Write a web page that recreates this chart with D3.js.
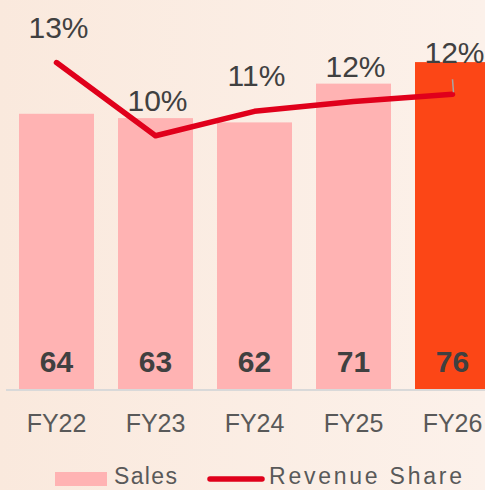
<!DOCTYPE html>
<html>
<head>
<meta charset="utf-8">
<script src="https://cdn.jsdelivr.net/npm/d3@7"></script>
<style>
html,body{margin:0;padding:0;overflow:hidden;}
svg{display:block;}
text{font-family:"Liberation Sans",Arial,sans-serif;}
</style>
</head>
<body>
<script>
const categories = ["FY22","FY23","FY24","FY25","FY26"];
const sales = [64, 63, 62, 71, 76];
const revenueShare = [13.4, 10.4, 11.4, 11.8, 12.1];
const shareLabels = ["13%","10%","11%","12%","12%"];
const highlight = "FY26";

const W = 485, H = 490;
const svg = d3.select("body").append("svg").attr("width", W).attr("height", H);

const defs = svg.append("defs");
const grad = defs.append("linearGradient").attr("id","bg").attr("x1","0").attr("y1","0").attr("x2","1").attr("y2","0");
grad.append("stop").attr("offset","0").attr("stop-color","#fae9dd");
grad.append("stop").attr("offset","1").attr("stop-color","#fcf1ea");
svg.append("rect").attr("width", W).attr("height", H).attr("fill","url(#bg)");

const baseY = 389.5;
const x = d3.scaleBand().domain(categories).range([7, 502]).paddingInner(0.2424).paddingOuter(0.1212);
const y = d3.scaleLinear().domain([0, 90]).range([baseY, baseY - 4.308 * 90]);
const y2 = d3.scaleLinear().domain([0, 16]).range([baseY, baseY - 24.4 * 16]);

// bars
svg.append("g").selectAll("rect").data(categories).join("rect")
  .attr("x", d => x(d))
  .attr("y", (d,i) => y(sales[i]))
  .attr("width", x.bandwidth())
  .attr("height", (d,i) => y(0) - y(sales[i]))
  .attr("fill", d => d === highlight ? "#fc4616" : "#ffb3b3");

// axis line
svg.append("line").attr("x1", 6).attr("x2", 485).attr("y1", baseY + 0.5).attr("y2", baseY + 0.5)
  .attr("stroke", "#d9d9d9").attr("stroke-width", 2);

// bar value labels
svg.append("g").selectAll("text").data(categories).join("text")
  .attr("x", d => x(d) + x.bandwidth()/2)
  .attr("y", 372)
  .attr("text-anchor","middle")
  .attr("font-size", 30).attr("font-weight","bold").attr("fill","#404040")
  .text((d,i) => sales[i]);

// category labels
const xAxis = svg.append("g").attr("transform", `translate(0,${baseY})`)
  .call(d3.axisBottom(x).tickSize(0).tickPadding(25));
xAxis.select(".domain").remove();
xAxis.selectAll("text").attr("font-size", 25).attr("fill", "#595959")
  .attr("font-family", '"Liberation Sans",Arial,sans-serif');

// line
const line = d3.line().x((d,i) => x(categories[i]) + x.bandwidth()/2).y(d => y2(d));
svg.append("path").datum(revenueShare).attr("d", line)
  .attr("fill","none").attr("stroke","#e0001b").attr("stroke-width", 5.5)
  .attr("stroke-linecap","round").attr("stroke-linejoin","round");

// leader line for last label
const lastI = categories.length - 1;
const lx = x(categories[lastI]) + x.bandwidth()/2;
svg.append("line").attr("x1", lx).attr("x2", lx + 1).attr("y1", y2(revenueShare[lastI]) - 15).attr("y2", y2(revenueShare[lastI]) - 2)
  .attr("stroke", "#a6a6a6").attr("stroke-width", 1.5);

// percent labels
svg.append("g").selectAll("text").data(categories).join("text")
  .attr("x", d => x(d) + x.bandwidth()/2 + 2)
  .attr("y", (d,i) => y2(revenueShare[i]) - (i === lastI ? 31 : 25))
  .attr("text-anchor","middle")
  .attr("font-size", 30).attr("fill","#404040")
  .text((d,i) => shareLabels[i]);

// legend
const lg = svg.append("g");
lg.append("rect").attr("x", 55).attr("y", 472).attr("width", 52).attr("height", 14).attr("fill", "#ffb3b3");
lg.append("text").attr("x", 114).attr("y", 484).attr("font-size", 23).attr("fill", "#595959")
  .attr("textLength", 63).attr("lengthAdjust","spacing").text("Sales");
lg.append("line").attr("x1", 210).attr("x2", 262).attr("y1", 479).attr("y2", 479)
  .attr("stroke", "#e0001b").attr("stroke-width", 5.5).attr("stroke-linecap","round");
lg.append("text").attr("x", 269).attr("y", 484).attr("font-size", 23).attr("fill", "#595959")
  .attr("textLength", 193).attr("lengthAdjust","spacing").text("Revenue Share");
</script>
</body>
</html>
